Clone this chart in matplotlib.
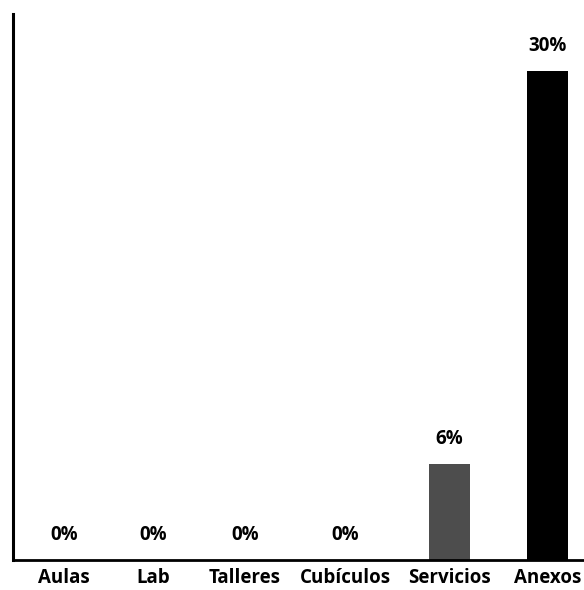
import matplotlib
matplotlib.use("Agg")
import matplotlib.pyplot as plt

categories = ["Aulas", "Lab", "Talleres", "Cubículos", "Servicios", "Anexos"]
values = [0.0, 0.0, 0.0, 0.0, 5.9, 30.0]
labels = ["0%", "0%", "0%", "0%", "6%", "30%"]
colors = ["#4d4d4d", "#4d4d4d", "#4d4d4d", "#4d4d4d", "#4d4d4d", "#000000"]

# layout: slot centres along the axis (category spacing as in the reference)
slots = [0.0, 0.908, 1.847, 2.867, 3.934, 4.934]

plt.rcParams['font.family'] = ['Open Sans', 'DejaVu Sans']

fig = plt.figure(figsize=(5.84, 5.90), dpi=100)
ax = fig.add_axes([13/584, 30/590, 571/584, 546/590])

ax.bar(slots, values, width=0.418, color=colors)

for xi, v, lab in zip(slots, values, labels):
    ax.annotate(lab, (xi, v), xytext=(0, 11), textcoords='offset points',
                ha='center', va='bottom', fontsize=13.5, fontweight='bold')

ax.set_xlim(-0.52, 5.306)
ax.set_ylim(0, 33.5)
ax.set_xticks(slots)
ax.set_xticklabels(categories, fontsize=13.5, fontweight='bold')
ax.tick_params(axis='x', length=0, pad=6)
ax.set_yticks([])
for s in ['top', 'right']:
    ax.spines[s].set_visible(False)
ax.spines['left'].set_linewidth(2.2)
ax.spines['bottom'].set_linewidth(2.0)

fig.savefig("out.png", dpi=100)
